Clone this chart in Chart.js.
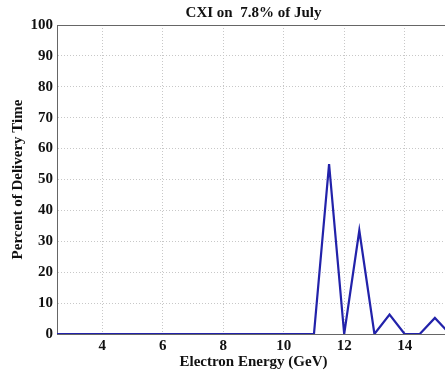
<!DOCTYPE html>
<html><head><meta charset="utf-8">
<script src="https://cdn.jsdelivr.net/npm/chart.js@4"></script>
<style>html,body{margin:0;padding:0;overflow:hidden;background:#fff;width:445px;height:372px}#wrap{width:450px;height:372px}</style>
</head><body><div id="wrap"><canvas id="c" width="450" height="372"></canvas></div>
<script>
const titleText = "CXI on  7.8% of July";
const energies = [2.5,3,3.5,4,4.5,5,5.5,6,6.5,7,7.5,8,8.5,9,9.5,10,10.5,11,11.5,12,12.5,13,13.5,14,14.5,15,15.5];
const percent  = [0,0,0,0,0,0,0,0,0,0,0,0,0,0,0,0,0,0,55,0,33.5,0,6.3,0,0,5.2,0];
const xTicks = [4,6,8,10,12,14];
const FONT = "'Liberation Serif','Times New Roman',serif";

const titlePlugin = {
  id:'tp',
  afterDraw(chart){
    const {ctx, chartArea:a} = chart;
    ctx.save();
    ctx.strokeStyle = '#666'; ctx.lineWidth = 1;
    ctx.beginPath(); ctx.moveTo(a.left, a.top+0.5); ctx.lineTo(a.right, a.top+0.5);
    ctx.moveTo(a.right-0.5, a.top); ctx.lineTo(a.right-0.5, a.bottom); ctx.stroke();
    ctx.fillStyle = '#111'; ctx.font = "bold 15px " + FONT;
    ctx.textAlign = 'center'; ctx.textBaseline = 'middle';
    ctx.fillText(titleText, (a.left+a.right)/2, 13);
    ctx.restore();
  }
};

new Chart(document.getElementById('c'), {
  type:'line',
  data:{datasets:[{data: energies.map((x,i)=>({x:x,y:percent[i]})), borderColor:'#2222aa', borderWidth:2.2, pointRadius:0, tension:0, fill:false}]},
  options:{
    responsive:false, animation:false,
    layout:{padding:{top:25,left:0,right:0,bottom:0}},
    plugins:{legend:{display:false}, tooltip:{enabled:false}, title:{display:false}},
    scales:{
      x:{type:'linear', min:2.5, max:15.5,
        afterBuildTicks(s){ s.ticks = xTicks.map(v=>({value:v})); },
        afterFit(s){ s.height = 38; },
        grid:{color:'#c8c8c8', lineWidth:1, drawTicks:false},
        border:{display:true, color:'#666', dash:[1,2]},
        ticks:{font:{family:FONT, weight:'bold', size:15}, color:'#111', padding:3, maxRotation:0},
        title:{display:true, text:'Electron Energy (GeV)', font:{family:FONT, weight:'bold', size:15}, color:'#111', padding:{top:-4,bottom:1}}
      },
      y:{min:0, max:100,
        afterFit(s){ s.width = 57; },
        grid:{color:'#c8c8c8', lineWidth:1, drawTicks:false},
        border:{display:true, color:'#666', dash:[1,2]},
        ticks:{stepSize:10, font:{family:FONT, weight:'bold', size:15}, color:'#111', padding:4},
        title:{display:true, text:'Percent of Delivery Time', font:{family:FONT, weight:'bold', size:15}, color:'#111', padding:{top:9,bottom:0}}
      }
    }
  },
  plugins:[titlePlugin]
});
</script></body></html>
